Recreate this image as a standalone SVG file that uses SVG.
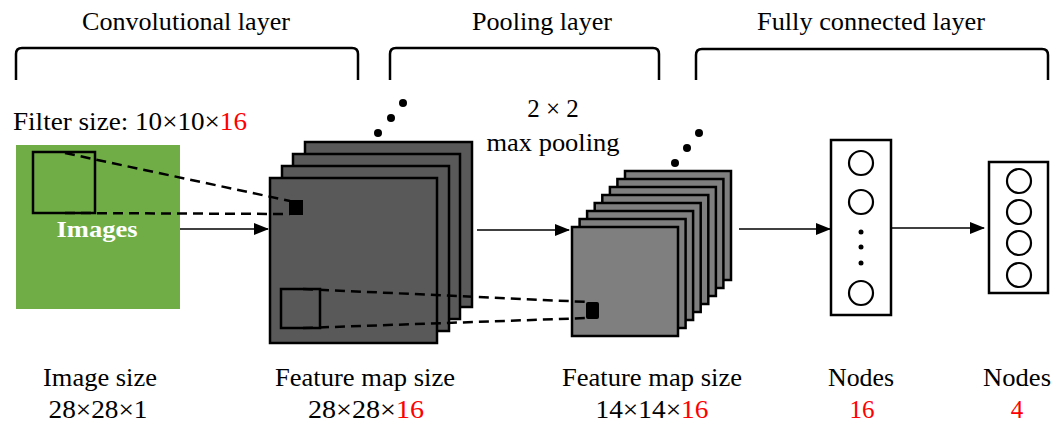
<svg xmlns="http://www.w3.org/2000/svg" width="1056" height="425" viewBox="0 0 1056 425">
<style>
text{font-family:"Liberation Serif","Times New Roman",serif;fill:#000}
.t{font-size:25px}
.lab{font-size:25px}
.red{fill:#FF0000}
.br{fill:none;stroke:#000;stroke-width:2.5}
.conv{fill:#595959;stroke:#000;stroke-width:2.5}
.pool{fill:#7F7F7F;stroke:#000;stroke-width:2.5}
.box{fill:#fff;stroke:#000;stroke-width:2.5}
.nd{fill:#fff;stroke:#000;stroke-width:2.2}
.dash{fill:none;stroke:#000;stroke-width:2.5;stroke-dasharray:10 6}
.arr{stroke:#000;stroke-width:1.5;fill:none;marker-end:url(#ah)}
</style>
<defs>
<marker id="ah" markerWidth="15" markerHeight="12" refX="14" refY="6" orient="auto" markerUnits="userSpaceOnUse">
<path d="M0,0 L15,6 L0,12 Z" fill="#000"/>
</marker>
</defs>
<rect width="1056" height="425" fill="#fff"/>

<g id="titles">
<text class="t" x="186" y="30" text-anchor="middle" textLength="208" lengthAdjust="spacingAndGlyphs">Convolutional layer</text>
<text class="t" x="542" y="30" text-anchor="middle" textLength="140" lengthAdjust="spacingAndGlyphs">Pooling layer</text>
<text class="t" x="871" y="30" text-anchor="middle" textLength="228" lengthAdjust="spacingAndGlyphs">Fully connected layer</text>
<path class="br" d="M16,80 V54 Q16,48 22,48 H352 Q358,48 358,54 V80"/>
<path class="br" d="M390,80 V54 Q390,48 396,48 H653 Q659,48 659,54 V80"/>
<path class="br" d="M696,80 V55 Q696,49 702,49 H1042 Q1048,49 1048,55 V80"/>
</g>

<g id="input">
<text class="t" x="13" y="130" textLength="234" lengthAdjust="spacingAndGlyphs">Filter size:  10×10×<tspan class="red">16</tspan></text>
<rect x="16" y="145" width="164" height="164" fill="#70AD47"/>
<rect x="33" y="152" width="62" height="61" fill="none" stroke="#000" stroke-width="2.5"/>
<text x="97" y="237" text-anchor="middle" font-size="24" font-weight="bold" style="fill:#fff" textLength="81" lengthAdjust="spacingAndGlyphs">Images</text>
</g>

<g id="conv-stack">
<rect class="conv" x="305" y="142" width="167" height="165"/>
<rect class="conv" x="293" y="154" width="167" height="165"/>
<rect class="conv" x="282" y="166" width="167" height="165"/>
<rect class="conv" x="270" y="178" width="167" height="165"/>
<rect x="289" y="200" width="14" height="15" fill="#000"/>
<rect x="281" y="289" width="39" height="39" fill="none" stroke="#000" stroke-width="2.5"/>
<circle cx="378" cy="133" r="4"/>
<circle cx="391" cy="118" r="4"/>
<circle cx="403" cy="103" r="4"/>
</g>

<g id="pool-stack">
<rect class="pool" x="625" y="171" width="106" height="109"/>
<rect class="pool" x="617.4" y="179" width="106" height="109"/>
<rect class="pool" x="609.9" y="187" width="106" height="109"/>
<rect class="pool" x="602.3" y="195" width="106" height="109"/>
<rect class="pool" x="594.7" y="203" width="106" height="109"/>
<rect class="pool" x="587.1" y="211" width="106" height="109"/>
<rect class="pool" x="579.6" y="219" width="106" height="109"/>
<rect class="pool" x="572" y="227" width="106" height="109"/>
<rect x="586" y="302" width="13" height="17" rx="2" fill="#000"/>
<circle cx="675" cy="163" r="4"/>
<circle cx="687" cy="148" r="4"/>
<circle cx="699" cy="133" r="4"/>
<text class="t" x="553" y="117" text-anchor="middle">2 × 2</text>
<text class="t" x="553" y="151" text-anchor="middle" textLength="133" lengthAdjust="spacingAndGlyphs">max pooling</text>
</g>

<g id="fc1">
<rect class="box" x="831" y="140" width="60" height="175"/>
<circle class="nd" cx="861" cy="163" r="12"/>
<circle class="nd" cx="861" cy="202" r="12"/>
<circle cx="861" cy="232" r="2.5"/>
<circle cx="861" cy="247" r="2.5"/>
<circle cx="861" cy="263" r="2.5"/>
<circle class="nd" cx="861" cy="293" r="12"/>
</g>

<g id="fc2">
<rect class="box" x="989" y="162" width="59" height="131"/>
<circle class="nd" cx="1019" cy="181" r="12"/>
<circle class="nd" cx="1019" cy="212" r="12"/>
<circle class="nd" cx="1019" cy="243" r="12"/>
<circle class="nd" cx="1019" cy="275" r="12"/>
</g>

<g id="connectors">
<line class="dash" x1="65" y1="153" x2="290" y2="201"/>
<line class="dash" x1="65" y1="213" x2="290" y2="214"/>
<line class="dash" x1="303" y1="289" x2="588" y2="302"/>
<line class="dash" x1="303" y1="328" x2="588" y2="318"/>
<line class="arr" x1="180" y1="229" x2="268" y2="229"/>
<line class="arr" x1="477" y1="230" x2="569" y2="230"/>
<line class="arr" x1="739" y1="229" x2="830" y2="229"/>
<line class="arr" x1="891" y1="228" x2="984" y2="228"/>
</g>

<g id="labels">
<text class="lab" x="100" y="386" text-anchor="middle" textLength="114" lengthAdjust="spacingAndGlyphs">Image  size</text>
<text class="lab" x="98" y="418" text-anchor="middle" textLength="99" lengthAdjust="spacingAndGlyphs">28×28×1</text>
<text class="lab" x="365" y="386" text-anchor="middle" textLength="180" lengthAdjust="spacingAndGlyphs">Feature map size</text>
<text class="lab" x="366" y="418" text-anchor="middle" textLength="116" lengthAdjust="spacingAndGlyphs">28×28×<tspan class="red">16</tspan></text>
<text class="lab" x="652" y="386" text-anchor="middle" textLength="180" lengthAdjust="spacingAndGlyphs">Feature map size</text>
<text class="lab" x="652" y="418" text-anchor="middle" textLength="113" lengthAdjust="spacingAndGlyphs">14×14×<tspan class="red">16</tspan></text>
<text class="lab" x="861" y="386" text-anchor="middle" textLength="66" lengthAdjust="spacingAndGlyphs">Nodes</text>
<text class="lab red" x="862" y="418" text-anchor="middle">16</text>
<text class="lab" x="1017" y="386" text-anchor="middle" textLength="68" lengthAdjust="spacingAndGlyphs">Nodes</text>
<text class="lab red" x="1017" y="418" text-anchor="middle">4</text>
</g>
</svg>
